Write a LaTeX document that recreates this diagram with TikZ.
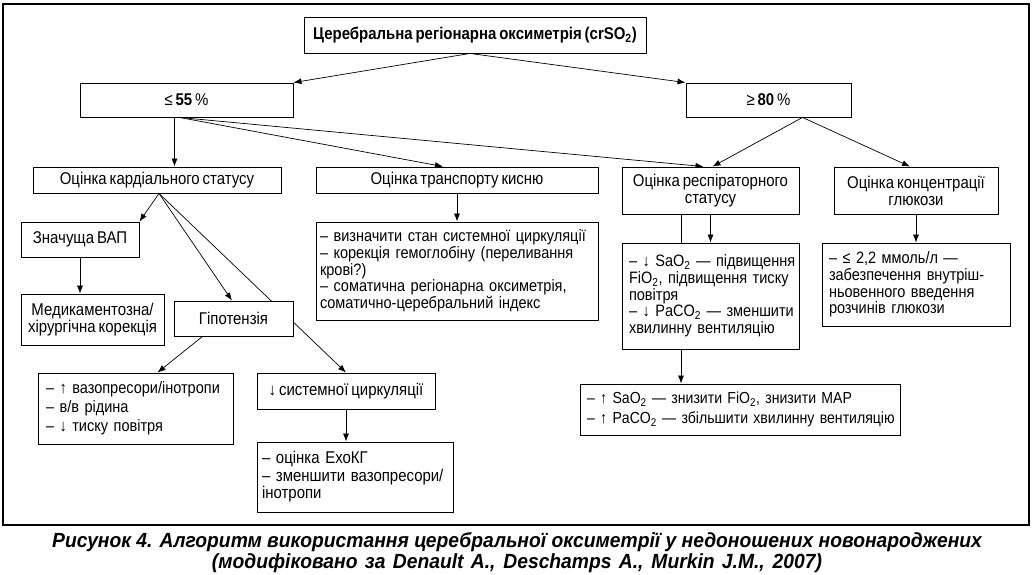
\documentclass[tikz,border=0pt]{standalone}
\usepackage{fontspec}
\setmainfont{Liberation Sans}[FakeStretch=0.88,WordSpace=0.7]
\newfontfamily\capfont{Liberation Sans}[FakeStretch=0.94]
\usetikzlibrary{arrows.meta,calc}
\pgfdeclarelayer{bg}
\pgfsetlayers{bg,main}
\newcommand\lowtwo{\textsubscript{2}}
\newcommand\fsz{\fontsize{17}{17}\selectfont}
\newcommand\isz{\fontsize{16.5}{16.7}\selectfont}
\newcommand\nb[1]{\mbox{#1}}
\begin{document}
\begin{tikzpicture}[x=1pt,y=-1pt,
  box/.style={draw, line width=0.9pt, fill=white, inner xsep=0pt, inner ysep=0pt, align=center, font=\fsz},
  info/.style={box, align=left, font=\isz},
  arr/.style={-{Latex[length=8pt,width=6pt]}, line width=0.7pt},
  frame/.style={draw, line width=1.3pt}]
\useasboundingbox (0,0) rectangle (1034,574);
\draw[frame] (3,4) rectangle (1029,525);

\node[box, minimum width=342pt, minimum height=36pt, font=\fsz\bfseries] (title) at (475,35) {Церебральна регіонарна оксиметрія (crSO\lowtwo)};
\node[box, minimum width=213pt, minimum height=34pt] (le55) at (186.5,100) {≤ \textbf{55} \%};
\node[box, minimum width=165pt, minimum height=34pt] (ge80) at (768.5,100) {≥ \textbf{80} \%};

\node[box, minimum width=248pt, minimum height=26pt] (card) at (157,180) {Оцінка кардіального статусу};
\node[box, minimum width=282pt, minimum height=26pt] (trans) at (457,180) {Оцінка транспорту кисню};
\node[box, minimum width=177pt, minimum height=47pt] (resp) at (710.5,190.5) {Оцінка респіраторного\\статусу};
\node[box, minimum width=164pt, minimum height=47pt] (gluc) at (916,190.5) {Оцінка концентрації\\глюкози};

\node[box, minimum width=118pt, minimum height=35pt] (vap) at (80,239.5) {Значуща ВАП};
\node[box, minimum width=143pt, minimum height=51pt] (medik) at (92.5,319.5) {Медикаментозна/\\хірургічна корекція};
\node[box, minimum width=119pt, minimum height=35pt] (hypo) at (233.5,318.5) {Гіпотензія};

\node[info, inner xsep=4pt, text width=274pt, minimum height=98pt] (transinfo) at (457,271)
  {\nb{– визначити стан системної циркуляції}\\\nb{– корекція гемоглобіну (переливання}\\\nb{крові?)}\\\nb{– соматична регіонарна оксиметрія,}\\\nb{соматично-церебральний індекс}};
\node[info, inner xsep=7pt, text width=163pt, minimum height=106pt] (respinfo) at (710.5,296)
  {\nb{– ↓ SaO\lowtwo{} — підвищення}\\\nb{FiO\lowtwo, підвищення тиску}\\\nb{повітря}\\\nb{– ↓ PaCO\lowtwo{} — зменшити}\\\nb{хвилинну вентиляцію}};
\node[info, inner xsep=7pt, text width=174pt, minimum height=83pt] (glucinfo) at (916,284.5)
  {\nb{– ≤ 2,2 ммоль/л —}\\\nb{забезпечення внутріш-}\\\nb{ньовенного введення}\\\nb{розчинів глюкози}};

\node[info, inner xsep=8pt, text width=179pt, minimum height=71pt, font=\fontsize{16.5}{19}\selectfont] (vaso) at (135.5,408.5)
  {\nb{– ↑ вазопресори/інотропи}\\\nb{– в/в рідина}\\\nb{– ↓ тиску повітря}};
\node[box, minimum width=178pt, minimum height=36pt] (sys) at (346,391) {↓ системної циркуляції};
\node[info, inner xsep=5pt, text width=186pt, minimum height=70pt, font=\fontsize{17}{17.5}\selectfont] (echo) at (355,477)
  {\nb{– оцінка ЕхоКГ}\\\nb{– зменшити вазопресори/}\\\nb{інотропи}};
\node[info, inner xsep=7pt, text width=306pt, minimum height=51pt, font=\fontsize{16}{20}\selectfont] (sao2) at (740,409.5)
  {\nb{– ↑ SaO\lowtwo{} — знизити FiO\lowtwo, знизити MAP}\\\nb{– ↑ PaCO\lowtwo{} — збільшити хвилинну вентиляцію}};

\node[align=center, font=\capfont\bfseries\itshape\fontsize{20.5}{21}\selectfont] (cap) at (517,553)
  {Рисунок 4. Алгоритм використання церебральної оксиметрії у недоношених новонароджених\\\makebox[610pt][s]{(модифіковано за Denault A., Deschamps A., Murkin J.M., 2007)}};

\begin{pgfonlayer}{bg}
\draw[arr] ([xshift=-5pt]title.south) -- (le55.north east);
\draw[arr] ([xshift=-5pt]title.south) -- (ge80.north west);
\draw[arr] ([xshift=-12pt]le55.south) -- ([xshift=-12pt]le55.south |- card.north);
\draw[arr] ([xshift=-7pt]le55.south) -- ([xshift=-14pt]trans.north);
\draw[arr] ([xshift=-7pt]le55.south) -- ([xshift=-7pt]resp.north);
\draw[arr] ([xshift=34pt]ge80.south) -- ([xshift=2pt]resp.north);
\draw[arr] ([xshift=34pt]ge80.south) -- ([xshift=-6pt]gluc.north);
\draw[arr] ([xshift=2pt]card.south) -- (vap.north east);
\draw[arr] ([xshift=2pt]card.south) -- ([xshift=-1.5pt]hypo.north);
\draw[arr] ([xshift=2pt]card.south) -- (sys.north);
\draw[arr] (vap.south) -- (vap.south |- medik.north);
\draw[arr] ([xshift=-31pt]hypo.south) -- ([xshift=22pt]vaso.north);
\draw[arr] (sys.south) -- (sys.south |- echo.north);
\draw[arr] (trans.south) -- (trans.south |- transinfo.north);
\draw[arr] (resp.south) -- (respinfo.north);
\draw[arr] ([xshift=-29.5pt]resp.south) -- ([xshift=-29.5pt]resp.south |- sao2.north);
\draw[arr] (gluc.south) -- (glucinfo.north);
\end{pgfonlayer}
\end{tikzpicture}
\end{document}
